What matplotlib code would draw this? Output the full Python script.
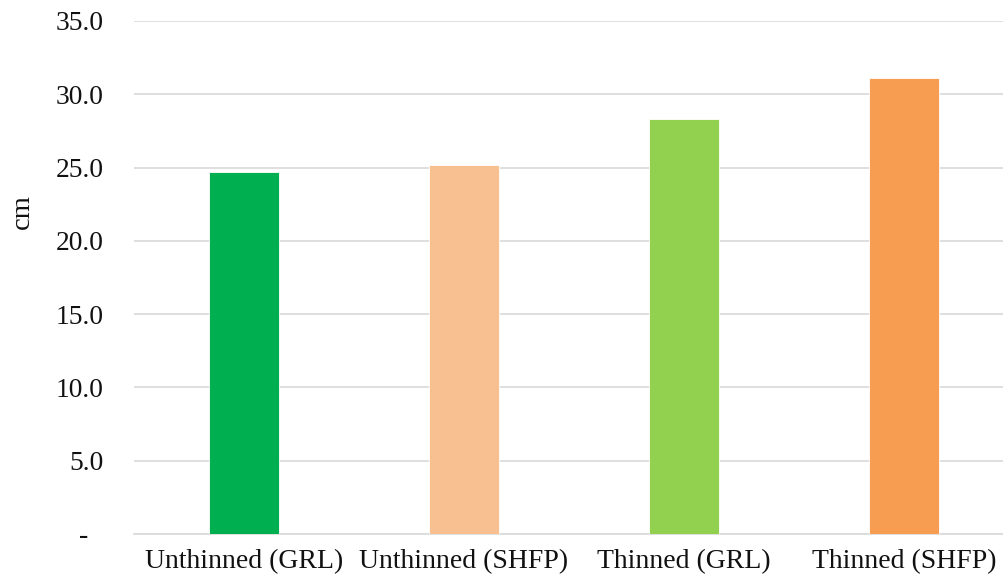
import matplotlib.pyplot as plt
from matplotlib import transforms

plt.rcParams['font.family'] = ['Liberation Serif', 'DejaVu Serif']

groups = ["Unthinned (GRL)", "Unthinned (SHFP)", "Thinned (GRL)", "Thinned (SHFP)"]
values = [24.7, 25.2, 28.3, 31.1]
colors = ["#00B050", "#F8C090", "#92D050", "#F79D52"]
y_ticks = [0, 5, 10, 15, 20, 25, 30, 35]

fig = plt.figure(figsize=(10.04, 5.81), dpi=100)
ax = fig.add_axes([134 / 1004, 47 / 581, 880 / 1004, 513 / 581])

x = range(len(groups))
ax.bar(x, values, width=0.314, color=colors, edgecolor="white",
       linewidth=0.6, zorder=3)

ax.set_xlim(-0.5, 3.5)
ax.set_ylim(0, 35)
ax.set_yticks(y_ticks)
ax.set_yticklabels([""] + ["%.1f" % t for t in y_ticks[1:]])
ax.set_xticks(list(x))
ax.set_xticklabels(groups)
ax.tick_params(axis="y", length=0, pad=22, labelsize=19.8, labelcolor="#111111")
ax.tick_params(axis="x", length=0, pad=11, labelsize=20, labelcolor="#111111")

# zero is shown as a dash, set a bit left of the other labels
ax.text(-0.052, -0.2, "-", transform=transforms.blended_transform_factory(ax.transAxes, ax.transData),
        ha="right", va="center", fontsize=20, color="#111111")

ax.grid(axis="y", color="#D9D9D9", linewidth=1.2, zorder=0)
for side in ["top", "right", "left"]:
    ax.spines[side].set_visible(False)
ax.spines["bottom"].set_color("#D9D9D9")
ax.spines["bottom"].set_linewidth(1.2)

fig.text(22 / 1004, 1 - 212 / 581, "cm", rotation=90, ha="center", va="center",
         fontsize=20.5, color="#111111")

plt.savefig("out.png", dpi=100)
